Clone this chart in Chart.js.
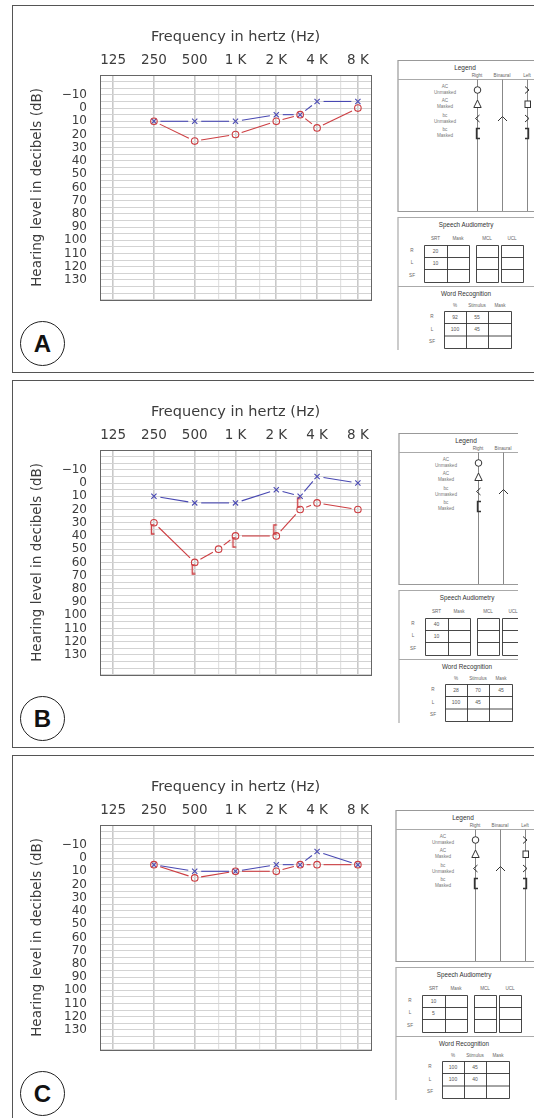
<!DOCTYPE html>
<html>
<head>
<meta charset="utf-8">
<script src="https://cdn.jsdelivr.net/npm/chart.js@4.4.1/dist/chart.umd.min.js"></script>
<style>
  html, body { margin: 0; padding: 0; background: #fff; }
  body { width: 534px; height: 1118px; position: relative; overflow: hidden; }
  .panel { position: absolute; left: 12px; width: 540px; height: 368px; border: 1.5px solid #555; border-right: none; box-sizing: border-box; }
  canvas { position: absolute; left: 14px; }
  .tag { position: absolute; left: 20px; width: 45px; height: 45px; border: 1.3px solid #222; border-radius: 50%; box-sizing: border-box;
         font: bold 24px "Liberation Sans", Arial, sans-serif; line-height: 43px; text-align: center; color: #111; }
  svg { position: absolute; overflow: hidden; }
</style>
</head>
<body>
<script>
// audiogram values (dB HL) per frequency
const freqs = [250, 500, 1000, 2000, 3000, 4000, 8000];
const rightA = [10, 25, 20, 10, 5, 15, 0];
const leftA = [10, 10, 10, 5, 5, -5, -5];

const freqsRightB = [250, 500, 750, 1000, 2000, 3000, 4000, 8000];
const rightB = [30, 60, 50, 40, 40, 20, 15, 20];
const leftB = [10, 15, 15, 5, 10, -5, 0];
const boneFreqsB = [250, 500, 1000, 2000, 3000];
const boneB = [35, 65, 45, 35, 15];

const rightC = [5, 15, 10, 10, 5, 5, 5];
const leftC = [5, 10, 10, 5, 5, -5, 5];

// axis ticks
const gridFreqs = [125, 250, 500, 750, 1000, 1500, 2000, 3000, 4000, 6000, 8000];
const tickFreqs = [125, 250, 500, 1000, 2000, 4000, 8000];
const tickLabels = ['125', '250', '500', '1 K', '2 K', '4 K', '8 K'];

// speech tables
const srtA = [20, 10];
const srtB = [40, 10];
const srtC = [10, 5];
const wordA = [[92, 55, ''], [100, 45, '']];
const wordB = [[28, 70, 45], [100, 45, '']];
const wordC = [[100, 45, ''], [100, 40, '']];

const panelLetters = ['A', 'B', 'C'];
const panelTops = [5, 380, 755];

const RED = 'rgb(205,62,66)';
const BLUE = 'rgb(72,72,178)';

function pts(xs, ys) {
  return xs.map((x, i) => ({ x: x, y: ys[i] }));
}

// small "[" marker for masked bone conduction
const bracket = document.createElement('canvas');
bracket.width = 12;
bracket.height = 11;
(function () {
  const c = bracket.getContext('2d');
  c.strokeStyle = RED;
  c.lineWidth = 1.4;
  c.beginPath();
  c.moveTo(6.5, 1);
  c.lineTo(3.5, 1);
  c.lineTo(3.5, 10);
  c.lineTo(6.5, 10);
  c.stroke();
})();

// lines between points that stop short of the markers
const gapLines = {
  id: 'gapLines',
  beforeDatasetsDraw(chart) {
    const ctx = chart.ctx;
    chart.data.datasets.forEach((ds, i) => {
      if (!ds.gapLine) return;
      const p = chart.getDatasetMeta(i).data;
      ctx.save();
      ctx.strokeStyle = ds.pointBorderColor;
      ctx.lineWidth = 1.1;
      for (let k = 0; k < p.length - 1; k++) {
        const dx = p[k + 1].x - p[k].x, dy = p[k + 1].y - p[k].y;
        const len = Math.hypot(dx, dy);
        const g = 6.5;
        if (len < 2 * g + 1) continue;
        const ux = dx / len, uy = dy / len;
        ctx.beginPath();
        ctx.moveTo(p[k].x + ux * g, p[k].y + uy * g);
        ctx.lineTo(p[k + 1].x - ux * g, p[k + 1].y - uy * g);
        ctx.stroke();
      }
      ctx.restore();
    });
  }
};

const frame = {
  id: 'frame',
  beforeDatasetsDraw(chart) {
    const a = chart.chartArea, ctx = chart.ctx;
    ctx.save();
    ctx.strokeStyle = '#666';
    ctx.lineWidth = 1;
    ctx.strokeRect(Math.round(a.left) + 0.5, Math.round(a.top) + 0.5, Math.round(a.width), Math.round(a.height));
    ctx.restore();
  }
};

function audiogram(top, right, left, bone) {
  const cv = document.createElement('canvas');
  cv.width = 366;
  cv.height = 310;
  cv.style.top = (top + 5) + 'px';
  document.body.appendChild(cv);

  const sets = [
    { data: right, pointStyle: 'circle', pointRadius: 3.3, pointBorderColor: RED, gapLine: true },
    { data: left, pointStyle: 'crossRot', pointRadius: 3.7, pointBorderColor: BLUE, gapLine: true }
  ];
  if (bone) sets.push({ data: bone, pointStyle: bracket, pointRadius: 5, pointBorderColor: RED });
  sets.forEach(s => {
    s.showLine = false;
    s.pointBackgroundColor = 'rgba(0,0,0,0)';
    s.pointBorderWidth = 1.1;
  });

  new Chart(cv, {
    type: 'line',
    data: { datasets: sets },
    options: {
      responsive: false,
      animation: false,
      layout: { padding: { left: 0, top: 0, right: 9, bottom: 7 } },
      plugins: { legend: { display: false }, tooltip: { enabled: false } },
      scales: {
        x: {
          type: 'logarithmic',
          position: 'top',
          min: 100,
          max: 10000,
          afterBuildTicks: s => { s.ticks = gridFreqs.map(v => ({ value: v })); },
          afterFit: s => { s.height = 65; },
          border: { display: false },
          grid: {
            drawTicks: false,
            color: c => [750, 1500, 3000, 6000].includes(c.tick && c.tick.value) ? '#e2e2e2' : '#c9c9c9',
            lineWidth: c => [750, 1500, 3000, 6000].includes(c.tick && c.tick.value) ? 1.2 : 1.6
          },
          ticks: {
            autoSkip: false,
            maxRotation: 0,
            padding: 6,
            color: '#3c3c3c',
            font: { family: 'DejaVu Sans', size: 13.5 },
            callback: v => {
              const i = tickFreqs.indexOf(v);
              return i >= 0 ? tickLabels[i] : '';
            }
          },
          title: {
            display: true,
            text: 'Frequency in hertz (Hz)',
            color: '#3c3c3c',
            font: { family: 'DejaVu Sans', size: 14.5 },
            padding: { top: 19, bottom: 0 }
          }
        },
        y: {
          type: 'linear',
          reverse: true,
          min: -25,
          max: 145,
          afterFit: s => { s.width = 86; },
          border: { display: false },
          grid: { drawTicks: false, color: '#d3d3d3', lineWidth: 1 },
          ticks: {
            stepSize: 5,
            autoSkip: false,
            padding: 13,
            color: '#3c3c3c',
            font: { family: 'DejaVu Sans', size: 12 },
            callback: v => (v % 10 === 0 && v >= -10 && v <= 130) ? (v < 0 ? '\u2212' + (-v) : String(v)) : ''
          },
          title: {
            display: true,
            text: 'Hearing level in decibels (dB)',
            color: '#3c3c3c',
            font: { family: 'DejaVu Sans', size: 13.5 },
            padding: { top: 15, bottom: 0 }
          }
        }
      }
    },
    plugins: [frame, gapLines]
  });
}

// legend / speech audiometry side sheet
function sidePanel(ox, oy, w, srt, word) {
  const s = [];
  const e = w + 5;
  const ln = (d, c, wd) => s.push(`<path d="${d}" fill="none" stroke="${c}" stroke-width="${wd}"/>`);
  const tx = (x, y, t, size, c) => s.push(`<text x="${x}" y="${y}" font-size="${size}" fill="${c}" text-anchor="middle" dominant-baseline="middle">${t}</text>`);

  // legend box
  ln(`M${e} 0.5 H1 V151.5 H${e}`, '#999', 1.2);
  ln(`M1 19.5 H${e}`, '#aaa', 1);
  [80, 105, 130].forEach(x => ln(`M${x + 0.5} 19.5 V151`, '#888', 1));
  tx(68, 8, 'Legend', 6.5, '#333');
  tx(80, 15.5, 'Right', 4.6, '#666');
  tx(105, 15.5, 'Binaural', 4.6, '#666');
  tx(130, 15.5, 'Left', 4.6, '#666');
  const rows = [['AC', 'Unmasked', 30], ['AC', 'Masked', 44], ['bc', 'Unmasked', 58.5], ['bc', 'Masked', 73]];
  rows.forEach(r => { tx(48, r[2] - 3, r[0], 4.6, '#777'); tx(48, r[2] + 3, r[1], 4.6, '#777'); });
  s.push('<g fill="#fff" stroke="#333" stroke-width="1">');
  s.push('<circle cx="80.5" cy="30" r="3.3"/>');
  s.push('<polygon points="80.5,40 76.8,47.5 84.2,47.5"/>');
  s.push('<polyline fill="none" points="82.5,55 78.5,58.5 82.5,62"/>');
  s.push('<polyline fill="none" stroke-width="1.4" points="83,68.5 79.5,68.5 79.5,78.5 83,78.5"/>');
  s.push('<polyline fill="none" points="101,61 105.5,56.5 110,61"/>');
  s.push('<polyline fill="none" points="128,26.5 132,30 128,33.5"/>');
  s.push('<rect x="128" y="41" width="5.5" height="6.5"/>');
  s.push('<polyline fill="none" points="128,55 132,58.5 128,62"/>');
  s.push('<polyline fill="none" stroke-width="1.4" points="128,68.5 131.5,68.5 131.5,78.5 128,78.5"/>');
  s.push('</g>');

  // speech audiometry
  ln(`M${e} 157.5 H1 V290`, '#aaa', 1.2);
  tx(69, 165, 'Speech Audiometry', 6.3, '#333');
  tx(38.5, 179, 'SRT', 4.6, '#666');
  tx(61, 179, 'Mask', 4.6, '#666');
  tx(90, 179, 'MCL', 4.6, '#666');
  tx(115, 179, 'UCL', 4.6, '#666');
  tx(15, 191, 'R', 4.6, '#666');
  tx(15, 203, 'L', 4.6, '#666');
  tx(15, 215.5, 'SF', 4.6, '#666');
  [[27, 72], [79, 101], [104, 126]].forEach(b => {
    ln(`M${b[0] + 0.5} 185.5 H${b[1] + 0.5} V222.5 H${b[0] + 0.5} Z M${b[0] + 0.5} 197.5 H${b[1] + 0.5} M${b[0] + 0.5} 209.5 H${b[1] + 0.5}`, '#333', 0.9);
  });
  ln('M50.5 185.5 V222.5', '#333', 0.9);
  tx(38.5, 191.5, srt[0], 5, '#555');
  tx(38.5, 203.5, srt[1], 5, '#555');

  // word recognition
  ln(`M1 226.5 H${e}`, '#aaa', 1.2);
  tx(69, 234, 'Word Recognition', 6.3, '#333');
  tx(58, 246, '%', 4.6, '#666');
  tx(80, 246, 'Stimulus', 4.6, '#666');
  tx(103, 246, 'Mask', 4.6, '#666');
  tx(35, 257, 'R', 4.6, '#666');
  tx(35, 270, 'L', 4.6, '#666');
  tx(35, 282, 'SF', 4.6, '#666');
  ln('M47.5 251.5 H114.5 V288.5 H47.5 Z M47.5 263.5 H114.5 M47.5 276 H114.5 M69.5 251.5 V288.5 M91.5 251.5 V288.5', '#333', 0.9);
  word.forEach((row, r) => {
    [58, 80, 103].forEach((x, c) => { if (row[c] !== '') tx(x, 257.5 + r * 12.5, row[c], 5, '#555'); });
  });

  document.body.insertAdjacentHTML('beforeend',
    `<svg width="${w}" height="300" style="left:${ox}px;top:${oy}px" font-family="Liberation Sans, Arial, sans-serif">${s.join('')}</svg>`);
}

panelTops.forEach((t, i) => {
  const p = document.createElement('div');
  p.className = 'panel';
  p.style.top = t + 'px';
  document.body.appendChild(p);
  const tag = document.createElement('div');
  tag.className = 'tag';
  tag.style.top = (t + 316) + 'px';
  tag.textContent = panelLetters[i];
  document.body.appendChild(tag);
});

audiogram(panelTops[0], pts(freqs, rightA), pts(freqs, leftA));
audiogram(panelTops[1], pts(freqsRightB, rightB), pts(freqs, leftB), pts(boneFreqsB, boneB));
audiogram(panelTops[2], pts(freqs, rightC), pts(freqs, leftC));

sidePanel(397, 60, 137, srtA, wordA);
sidePanel(398, 433, 120, srtB, wordB);
sidePanel(395, 810, 139, srtC, wordC);
</script>
</body>
</html>
